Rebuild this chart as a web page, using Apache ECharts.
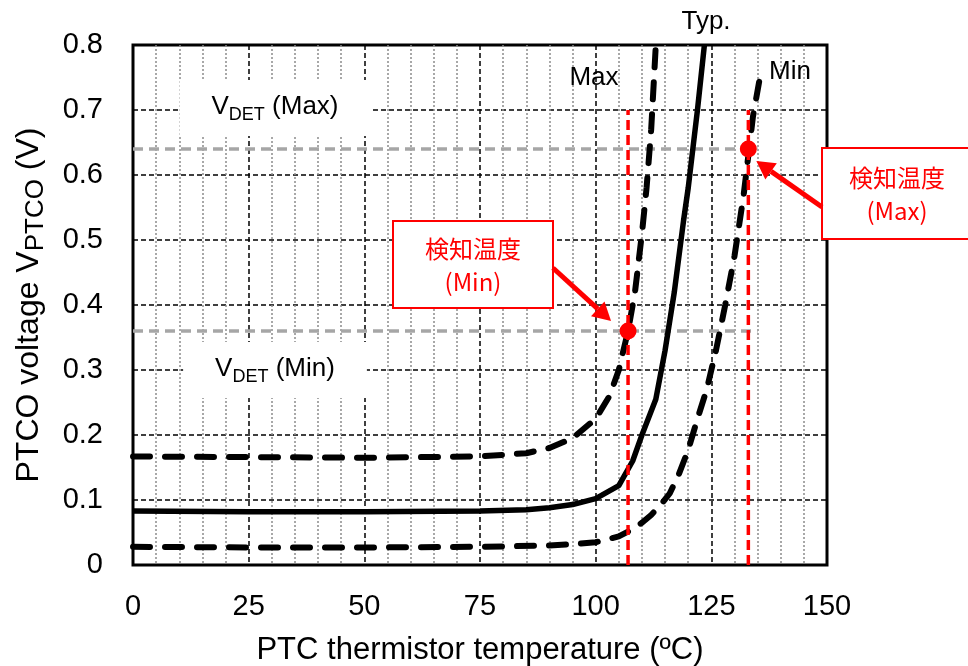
<!DOCTYPE html>
<html>
<head>
<meta charset="utf-8">
<script src="https://cdn.jsdelivr.net/npm/echarts@6/dist/echarts.min.js"></script>
<style>
  html, body { margin: 0; background: #fff; }
  #chart { width: 968px; height: 666px; }
</style>
</head>
<body>
<div id="chart"></div>
<script>
// temperatures (°C) and voltages (V)
const typT = [0, 25, 50, 75, 85, 90, 95, 100, 105, 108, 110, 113, 115, 117, 119, 120, 121, 122, 123.5]
const typV = [0.083, 0.082, 0.082, 0.083, 0.085, 0.088, 0.093, 0.102, 0.122, 0.16, 0.2, 0.255, 0.33, 0.42, 0.53, 0.58, 0.64, 0.7, 0.8]
const maxT = [0, 25, 50, 75, 85, 90, 95, 100, 103, 105, 107, 108.5, 110, 111, 112, 113]
const maxV = [0.167, 0.166, 0.165, 0.167, 0.172, 0.18, 0.195, 0.225, 0.26, 0.3, 0.36, 0.42, 0.51, 0.58, 0.67, 0.8]
const minT = [0, 25, 50, 75, 90, 95, 100, 105, 108, 110, 112, 114, 116, 118, 120, 122, 124, 126, 128, 130, 132, 133, 134, 135.5]
const minV = [0.028, 0.027, 0.027, 0.028, 0.03, 0.032, 0.035, 0.044, 0.055, 0.065, 0.077, 0.092, 0.11, 0.14, 0.177, 0.225, 0.27, 0.33, 0.4, 0.475, 0.57, 0.63, 0.69, 0.75]
// detection points: (Min) and (Max)
const detT = [107, 133]
const detV = [0.36, 0.64]
const detTop = 0.7
const vdetEnd = 135

const xMin = 0, xMax = 150, xStep = 25
const yMin = 0, yMax = 0.8, yStep = 0.1

const pairs = (xs, ys) => xs.map((x, i) => [x, ys[i]])
const font = 'Liberation Sans'
const red = '#ff0000'

const series = [
  // VDET reference levels
  ...detV.map(v => ({
    type: 'line', silent: true, symbol: 'none', z: 3,
    data: [[xMin, v], [vdetEnd, v]],
    lineStyle: { color: '#a6a6a6', width: 3.5, type: [10, 6] }
  })),
  {
    type: 'line', name: 'Typ.', symbol: 'none', z: 4,
    data: pairs(typT, typV),
    lineStyle: { color: '#000', width: 5.5 }
  },
  {
    type: 'line', name: 'Max', symbol: 'none', z: 4,
    data: pairs(maxT, maxV),
    lineStyle: { color: '#000', width: 6, type: [17, 15], cap: 'round' }
  },
  {
    type: 'line', name: 'Min', symbol: 'none', z: 4,
    data: pairs(minT, minV),
    lineStyle: { color: '#000', width: 6, type: [17, 15], cap: 'round' }
  },
  ...detT.map(t => ({
    type: 'line', silent: true, symbol: 'none', z: 5,
    data: [[t, yMin], [t, detTop]],
    lineStyle: { color: red, width: 3.5, type: [10, 5] }
  })),
  {
    type: 'scatter', z: 6, symbolSize: 17,
    data: pairs(detT, detV),
    itemStyle: { color: red, opacity: 1 }
  }
]

const chart = echarts.init(document.getElementById('chart'))
chart.setOption({
  animation: false,
  backgroundColor: '#fff',
  textStyle: { fontFamily: font },
  grid: {
    left: 133, right: 141, top: 45, bottom: 101,
    outerBoundsMode: 'none', containLabel: false,
    show: true, borderColor: '#000', borderWidth: 3, backgroundColor: 'transparent'
  },
  xAxis: {
    type: 'value', min: xMin, max: xMax, interval: xStep,
    axisLine: { show: false }, axisTick: { show: false },
    axisLabel: { color: '#000', fontSize: 29, margin: 27, fontFamily: font },
    splitLine: { show: true, lineStyle: { color: '#000', width: 1.5, type: [5, 3] } },
    minorTick: { show: false, splitNumber: 5 },
    minorSplitLine: { show: true, lineStyle: { color: '#8c8c8c', width: 1.5, type: [2, 2] } },
    name: 'PTC thermistor temperature (ºC)',
    nameLocation: 'middle', nameGap: 70,
    nameTextStyle: { color: '#000', fontSize: 31, fontFamily: font }
  },
  yAxis: {
    type: 'value', min: yMin, max: yMax, interval: yStep,
    axisLine: { show: false }, axisTick: { show: false },
    axisLabel: { color: '#000', fontSize: 29, margin: 30, fontFamily: font },
    splitLine: { show: true, lineStyle: { color: '#000', width: 1.5, type: [5, 3] } },
    name: '{a|PTCO voltage V}{s|PTCO}{a| (V)}',
    nameLocation: 'middle', nameGap: 82,
    nameTextStyle: {
      color: '#000', fontFamily: font,
      rich: {
        a: { fontSize: 32, fontFamily: font, color: '#000', lineHeight: 38, verticalAlign: 'top' },
        s: { fontSize: 26, fontFamily: font, color: '#000', lineHeight: 38, padding: [10, 0, 0, 0], verticalAlign: 'top' }
      }
    }
  },
  series: series
})

// annotations
function vdetLabel(tag, cx, cy) {
  return {
    type: 'text', z: 100, x: cx, y: cy,
    style: {
      text: '{a|V}{s|DET}{a| (' + tag + ')}',
      align: 'center', verticalAlign: 'middle',
      backgroundColor: '#fff', padding: [14, 32, 12, 32],
      rich: {
        a: { fontSize: 26, fontFamily: font, fill: '#000', lineHeight: 30, verticalAlign: 'top' },
        s: { fontSize: 18, fontFamily: font, fill: '#000', lineHeight: 30, padding: [12, 0, 0, 0], verticalAlign: 'top' }
      }
    }
  }
}
function plainText(txt, x, y) {
  return {
    type: 'text', z: 100, x: x, y: y,
    style: { text: txt, fontSize: 26, fontFamily: font, fill: '#000', align: 'center', verticalAlign: 'middle' }
  }
}
function callout(tag, x, y, w, h) {
  return [
    {
      type: 'rect', z: 100,
      shape: { x: x, y: y, width: w, height: h },
      style: { fill: '#fff', stroke: red, lineWidth: 2 }
    },
    {
      type: 'text', z: 101, x: x + w / 2, y: y + h / 2 + 1,
      style: {
        text: '検知温度\n(' + tag + ')', align: 'center', verticalAlign: 'middle',
        fontSize: 24, lineHeight: 33, fill: red,
        fontFamily: '"Noto Sans CJK JP", "Liberation Sans", sans-serif'
      }
    }
  ]
}
function arrow(x1, y1, x2, y2) {
  const ang = Math.atan2(y2 - y1, x2 - x1)
  const L = 18, W = 10
  const bx = x2 - L * Math.cos(ang), by = y2 - L * Math.sin(ang)
  const px = -Math.sin(ang) * W, py = Math.cos(ang) * W
  return [
    {
      type: 'line', z: 100,
      shape: { x1: x1, y1: y1, x2: bx, y2: by },
      style: { stroke: red, lineWidth: 5 }
    },
    {
      type: 'polygon', z: 100,
      shape: { points: [[x2, y2], [bx + px, by + py], [bx - px, by - py]] },
      style: { fill: red }
    }
  ]
}

const pMin = chart.convertToPixel({ gridIndex: 0 }, [detT[0], detV[0]])
const pMax = chart.convertToPixel({ gridIndex: 0 }, [detT[1], detV[1]])

chart.setOption({
  graphic: [
    vdetLabel('Max', 275, 108),
    vdetLabel('Min', 275, 370),
    plainText('Typ.', 706, 22),
    plainText('Max', 594, 78),
    plainText('Min', 790, 72),
    ...callout('Min', 393, 221, 160, 87),
    ...callout('Max', 822, 148, 150, 91),
    ...arrow(553, 268, pMin[0] - 17, pMin[1] - 10),
    ...arrow(822, 207, pMax[0] + 8, pMax[1] + 12)
  ]
})
</script>
</body>
</html>
